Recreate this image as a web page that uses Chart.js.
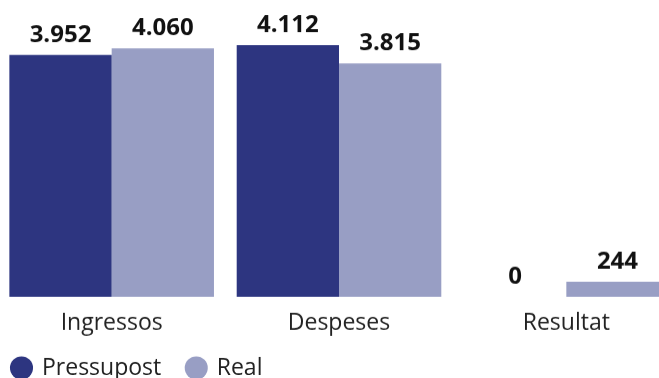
<!DOCTYPE html>
<html>
<head>
<meta charset="utf-8">
<script src="https://cdn.jsdelivr.net/npm/chart.js@4/dist/chart.umd.min.js"></script>
<style>
html,body{margin:0;padding:0;width:659px;height:378px;overflow:hidden;background:#fff;}
#wrap{position:absolute;left:-2px;top:0;width:682px;height:388.5px;}
</style>
</head>
<body>
<div id="wrap"><canvas id="c"></canvas></div>
<script>
const categories = ['Ingressos', 'Despeses', 'Resultat'];
const pressupost = [3952, 4112, 0];
const real = [4060, 3815, 244];
const seriesNames = ['Pressupost', 'Real'];

function fmt(v){
  return String(Math.round(v)).replace(/\B(?=(\d{3})+(?!\d))/g, '.');
}

const valueLabels = {
  id: 'valueLabels',
  afterDatasetsDraw(chart){
    const ctx = chart.ctx;
    ctx.save();
    ctx.font = 'bold 24px "Open Sans"';
    ctx.fillStyle = '#111111';
    ctx.textAlign = 'center';
    ctx.textBaseline = 'alphabetic';
    chart.data.datasets.forEach((ds, i) => {
      const meta = chart.getDatasetMeta(i);
      meta.data.forEach((el, j) => {
        ctx.fillText(fmt(ds.data[j]), el.x, el.y - 13);
      });
    });
    ctx.restore();
  }
};

Chart.defaults.font.family = '"Open Sans", sans-serif';
Chart.defaults.color = '#222222';

new Chart(document.getElementById('c'), {
  type: 'bar',
  data: {
    labels: categories,
    datasets: [
      { label: seriesNames[0], data: pressupost, backgroundColor: '#2d3580', categoryPercentage: 0.9, barPercentage: 1.0 },
      { label: seriesNames[1], data: real, backgroundColor: '#989ec4', categoryPercentage: 0.9, barPercentage: 1.0 }
    ]
  },
  options: {
    responsive: true,
    maintainAspectRatio: false,
    animation: false,
    layout: { padding: 0 },
    plugins: {
      tooltip: { enabled: false },
      legend: {
        position: 'bottom',
        align: 'start',
        labels: {
          usePointStyle: true,
          pointStyle: 'circle',
          boxWidth: 18,
          boxHeight: 16.3,
          padding: 14.5,
          color: '#222222',
          font: { size: 23 },
          generateLabels(chart){
            const items = Chart.defaults.plugins.legend.labels.generateLabels(chart);
            items.forEach((it, k) => { if (k < items.length - 1) it.text = it.text + '\u2002'; it.lineWidth = 0; });
            return items;
          }
        }
      }
    },
    scales: {
      x: {
        grid: { display: false, drawTicks: false },
        border: { display: false },
        ticks: { padding: 12.2, color: '#222222', font: { size: 23, lineHeight: 1.2 } },
        afterFit(scale){ scale.height = 45; }
      },
      y: {
        display: false,
        min: 0,
        max: 4850
      }
    }
  },
  plugins: [valueLabels]
});
</script>
</body>
</html>
